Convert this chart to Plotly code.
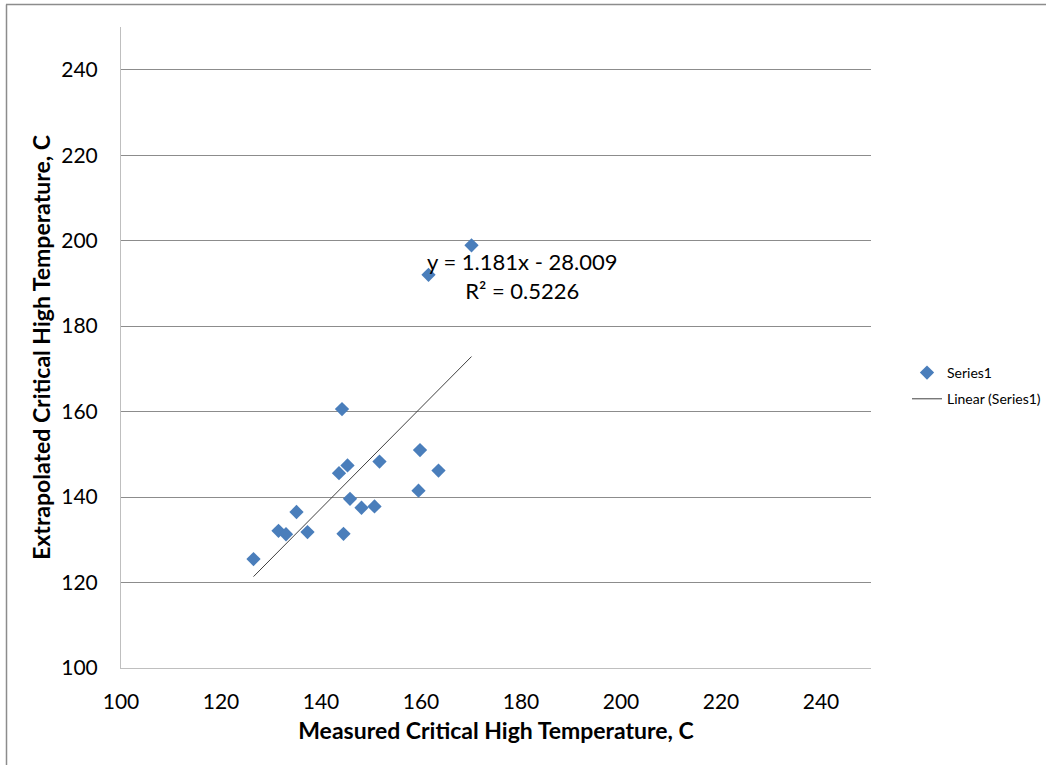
import plotly.graph_objects as go

# Data
measured = [126.5, 131.5, 133.0, 135.1, 137.3, 144.2, 143.6, 145.3, 144.5,
            145.8, 148.1, 150.7, 151.7, 159.8, 159.5, 163.5, 161.5, 170.1]
extrapolated = [125.5, 132.1, 131.3, 136.5, 131.8, 160.6, 145.6, 147.4, 131.4,
                139.6, 137.5, 137.8, 148.3, 151.0, 141.5, 146.2, 192.0, 198.9]

slope = 1.181
intercept = -28.009
r_squared = 0.5226

tick_vals = [100, 120, 140, 160, 180, 200, 220, 240]

FONT = "Lato, 'Open Sans', sans-serif"

W, H = 1046, 765
L, R, T, B = 121, 175, 27, 97
PW, PH = W - L - R, H - T - B


def px(xp):
    return (xp - L) / PW


def py(yp):
    return (H - B - yp) / PH


x_fit = [min(measured), max(measured)]
y_fit = [slope * x + intercept for x in x_fit]

fig = go.Figure()
fig.add_trace(go.Scatter(
    x=measured, y=extrapolated, mode="markers", name="Series1",
    legendgroup="a",
    marker=dict(symbol="diamond", size=11, color="#4A7EBB", line=dict(width=0)),
))
fig.add_trace(go.Scatter(
    x=x_fit, y=y_fit, mode="lines", name="Linear (Series1)",
    legendgroup="b",
    line=dict(color="#404040", width=1),
))

fig.add_annotation(
    x=px(522), y=py(276), xref="paper", yref="paper",
    yanchor="middle", xanchor="center", showarrow=False,
    text=f"y = {slope}x - {abs(intercept):.3f}<br>R² = {r_squared}",
    font=dict(family=FONT, size=22, color="#000000"),
    align="center",
)

fig.update_layout(
    width=W, height=H,
    margin=dict(l=L, r=R, t=T, b=B, autoexpand=False),
    paper_bgcolor="white", plot_bgcolor="white",
    font=dict(family=FONT, color="#000000"),
    showlegend=True,
    legend=dict(
        xref="container", yref="container",
        x=907 / W, y=(H - 386) / H, xanchor="left", yanchor="middle",
        font=dict(family=FONT, size=14, color="#000000"),
        bgcolor="rgba(0,0,0,0)", tracegroupgap=5,
    ),
    xaxis=dict(
        range=[100, 250], tickvals=tick_vals, showgrid=False,
        showline=True, linecolor="#BFBFBF", linewidth=1, ticks="",
        zeroline=False, tickfont=dict(family=FONT, size=21),
        ticklabelstandoff=15,
        title=dict(text="<b>Measured Critical High Temperature, C</b>",
                   font=dict(family=FONT, size=23), standoff=10),
    ),
    yaxis=dict(
        range=[100, 250], tickvals=tick_vals, showgrid=True,
        gridcolor="#8C8C8C", gridwidth=1,
        showline=True, linecolor="#BFBFBF", linewidth=1, ticks="",
        zeroline=False, tickfont=dict(family=FONT, size=21),
        ticklabelstandoff=18,
        title=dict(text="<b>Extrapolated Critical High Temperature, C</b>",
                   font=dict(family=FONT, size=23), standoff=4),
    ),
    shapes=[
        dict(type="line", xref="paper", yref="paper",
             x0=px(6), x1=px(1046), y0=py(4.5), y1=py(4.5),
             line=dict(color="#8C8C8C", width=1.5)),
        dict(type="line", xref="paper", yref="paper",
             x0=px(6.5), x1=px(6.5), y0=py(765), y1=py(4.5),
             line=dict(color="#8C8C8C", width=1.5)),
    ],
)

fig.write_html("out.html", config={"displayModeBar": False},
               post_script="document.body.style.margin='0';")
